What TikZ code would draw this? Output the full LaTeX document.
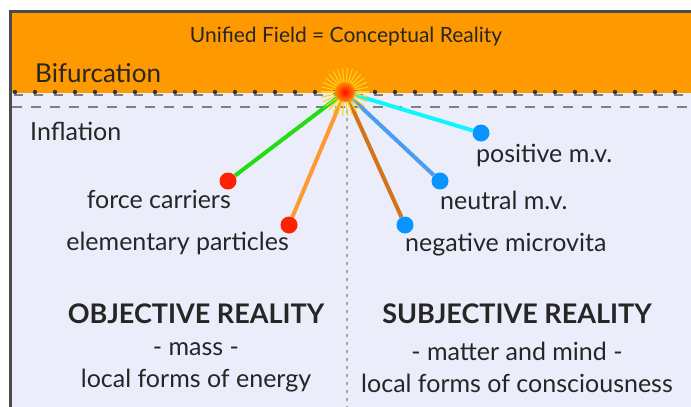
\documentclass[tikz,border=0pt]{standalone}
\usepackage{fontspec}
\setmainfont{Lato}
\usetikzlibrary{positioning}
\definecolor{bandorange}{HTML}{FF9900}
\definecolor{bglav}{HTML}{EBEDFA}
\definecolor{framegray}{HTML}{4A4A4A}
\definecolor{dotred}{HTML}{FF2200}
\definecolor{dotblue}{HTML}{0A94FF}
\definecolor{lgreen}{HTML}{22DD11}
\definecolor{lorange}{HTML}{FF9933}
\definecolor{lbrown}{HTML}{D2741C}
\definecolor{lblue}{HTML}{4A9CEE}
\definecolor{lcyan}{HTML}{11F5FF}
\definecolor{sunyellow}{HTML}{FFD21A}
\begin{document}
\begin{tikzpicture}[x=1pt, y=-1pt,
        lbl/.style={font=\fontsize{25}{28}\selectfont, text=black!85, inner sep=0pt},
        toplbl/.style={font=\fontsize{21}{24}\selectfont, text=black!85, inner sep=0pt},
        headlbl/.style={font=\fontsize{27}{31}\selectfont\bfseries, text=black!85, inner sep=0pt},
        subl/.style={font=\fontsize{25}{32}\selectfont, text=black!85, align=center, inner sep=0pt},
        reddot/.style={circle, fill=dotred, minimum size=17pt, inner sep=0pt},
        bluedot/.style={circle, fill=dotblue, minimum size=17pt, inner sep=0pt},
        ray/.style={line width=4pt},
        sunray/.style={line width=1.1pt, sunyellow}
    ]
    \useasboundingbox (0,0) rectangle (691,407);

    % Frame and bands
    \fill[bglav] (10,11) rectangle (691,407);
    \fill[bandorange] (10,11) rectangle (691,93);
    \draw[framegray, line width=3pt] (10.5,407) -- (10.5,11.5) -- (691,11.5);

    % Border lines
    \draw[gray, line width=2pt, dash pattern=on 9pt off 11pt] (14,95) -- (691,95);
    \foreach \x in {15,35,...,691}
        \fill[black!80] (\x,92) circle (2.2);
    \draw[gray, line width=2pt, dash pattern=on 10pt off 9pt] (12,107) -- (691,107);
    \draw[gray!70, line width=1.8pt, dash pattern=on 3pt off 5pt] (347,110) -- (347,407);

    % Centre of the burst
    \node[circle, inner sep=0pt, minimum size=4pt] (burst) at (345,92) {};

    % Particles
    \node[reddot] (fc) at (228,181) {};
    \node[reddot] (ep) at (289,225) {};
    \node[bluedot] (nmv) at (405,225) {};
    \node[bluedot] (zmv) at (440,181) {};
    \node[bluedot] (pmv) at (481,133) {};

    % Connectors
    \draw[ray, lgreen] (burst.center) -- (fc);
    \draw[ray, lorange] (burst.center) -- (ep);
    \draw[ray, lbrown] (burst.center) -- (nmv);
    \draw[ray, lblue] (burst.center) -- (zmv);
    \draw[ray, lcyan] (burst.center) -- (pmv);

    % Burst
    \foreach \a in {0,12,...,348}
        \draw[sunray] (burst.center) ++(\a:9) -- ++(\a:15);
    \shade[inner color=red!90!orange, outer color=orange!90!yellow] (burst.center) circle (10);

    % Texts
    \node[toplbl] (unified) at (346,37) {Unified Field = Conceptual Reality};
    \node[lbl, font=\fontsize{26}{29}\selectfont, anchor=west] (bif) at (35,73) {Bifurcation};
    \node[lbl, anchor=west] (infl) at (30,131) {Inflation};
    \node[lbl, anchor=east] (fcl) at (231,199) {force carriers};
    \node[lbl, anchor=east] (epl) at (289,243) {elementary particles};
    \node[lbl, anchor=west] (pmvl) at (476,155) {positive m.v.};
    \node[lbl, anchor=west] (zmvl) at (440,200) {neutral m.v.};
    \node[lbl, anchor=west] (nmvl) at (405,245) {negative microvita};

    \node[headlbl] (obj) at (196,314) {OBJECTIVE REALITY};
    \node[subl] (objsub) at (196,367) {- mass -\\local forms of energy};
    \node[headlbl] (subj) at (517,314) {SUBJECTIVE REALITY};
    \node[subl] (subjsub) at (517,367) {- matter and mind -\\local forms of consciousness};

\end{tikzpicture}
\end{document}
